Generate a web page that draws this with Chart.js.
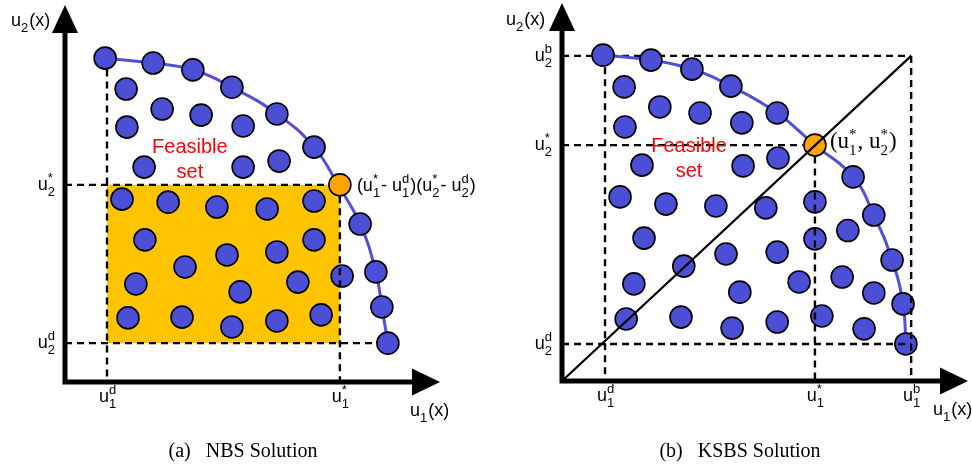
<!DOCTYPE html>
<html>
<head>
<meta charset="utf-8">
<script src="https://cdn.jsdelivr.net/npm/chart.js@4/dist/chart.umd.min.js"></script>
<style>
  html, body { margin: 0; padding: 0; background: #ffffff; }
  #wrap { position: relative; width: 972px; height: 466px; }
  canvas { position: absolute; top: 0; }
  #ca { left: 0; }
  #cb { left: 486px; }
</style>
</head>
<body>
<div id="wrap">
  <canvas id="ca" width="486" height="466"></canvas>
  <canvas id="cb" width="486" height="466"></canvas>
</div>
<script>
// ---------------- DATA (utility units, axes 0..10) ----------------
// (a) NBS
const nbsFrontierX = [1.07, 2.35, 3.41, 4.45, 5.65, 6.64, 7.28, 7.87, 8.29, 8.45, 8.61];
const nbsFrontierY = [8.59, 8.46, 8.28, 7.82, 7.11, 6.23, 5.23, 4.19, 2.92, 1.99, 1.03];
const nbsInteriorX = [1.63, 2.59, 3.63, 1.65, 4.75, 2.11, 4.75, 5.71, 1.52, 2.75, 4.05, 5.39, 6.64,
                      2.13, 6.64, 3.20, 4.32, 5.65, 1.89, 4.67, 6.21, 7.39, 1.68, 3.12, 4.45, 5.65, 6.83];
const nbsInteriorY = [7.77, 7.24, 7.08, 6.76, 6.79, 5.70, 5.70, 5.86, 4.85, 4.77, 4.64, 4.59, 4.80,
                      3.77, 3.77, 3.05, 3.37, 3.45, 2.60, 2.39, 2.65, 2.81, 1.70, 1.72, 1.46, 1.62, 1.78];
const nbsSolution = [7.33, 5.23];      // (u1*, u2*)
const nbsDisagreement = [1.12, 1.03];  // (u1d, u2d)

// (b) KSBS
const ksbsFrontierX = [1.01, 2.19, 3.20, 4.16, 5.30, 6.23, 7.17, 7.68, 8.13, 8.40, 8.47];
const ksbsFrontierY = [8.62, 8.49, 8.25, 7.80, 7.09, 6.24, 5.40, 4.39, 3.20, 2.04, 0.98];
const ksbsInteriorX = [1.53, 2.41, 3.40, 1.55, 4.43, 1.97, 4.46, 5.32, 1.43, 2.56, 3.79, 5.02, 6.23,
                       2.02, 6.23, 7.04, 4.04, 5.30, 3.00, 1.77, 4.38, 5.84, 6.90, 7.68,
                       1.58, 2.93, 4.19, 5.30, 6.40, 7.44];
const ksbsInteriorY = [7.78, 7.25, 7.09, 6.72, 6.83, 5.71, 5.69, 5.90, 4.87, 4.68, 4.63, 4.58, 4.74,
                       3.78, 3.76, 3.98, 3.36, 3.41, 3.04, 2.57, 2.35, 2.62, 2.75, 2.33,
                       1.64, 1.69, 1.40, 1.56, 1.72, 1.38];
const ksbsSolution = [6.23, 6.24];
const ksbsDisagreement = [1.06, 0.98];
const ksbsBest = [8.60, 8.60];         // (u1b, u2b)

// tick labels: [base, subscript, superscript]
const nbsXTicks = [['u', '1', 'd'], ['u', '1', '*']];
const nbsYTicks = [['u', '2', '*'], ['u', '2', 'd']];
const ksbsXTicks = [['u', '1', 'd'], ['u', '1', '*'], ['u', '1', 'b']];
const ksbsYTicks = [['u', '2', 'b'], ['u', '2', '*'], ['u', '2', 'd']];
const captions = ['(a)\u2002 NBS Solution', '(b)\u2002 KSBS Solution'];

// ---------------- helpers ----------------
const BLUE = '#4B4FD6';
const CURVE = '#5050D8';
const ORANGE = '#FFA500';
const GOLD = '#FFC400';
const SANS = '"Liberation Sans", Arial, sans-serif';
const SERIF = '"Liberation Serif", "Times New Roman", serif';
const zip = (xs, ys) => xs.map((x, i) => ({ x, y: ys[i] }));
const R = 11;

function dots(xs, ys, color, order) {
  return { data: zip(xs, ys), pointRadius: R, pointHoverRadius: R, pointBackgroundColor: color,
           pointBorderColor: '#000', pointBorderWidth: 1.6, showLine: false, order: order, clip: false };
}
function curve(xs, ys, order) {
  return { data: zip(xs, ys), showLine: true, tension: 0.45, borderColor: CURVE, borderWidth: 3,
           pointRadius: 0, order: order, clip: false };
}
function seg(p, q, dashed, order, width) {
  return { data: [p, q], showLine: true, borderColor: '#000', borderWidth: width || 2.4,
           borderDash: dashed ? [7, 5] : [], pointRadius: 0, order: order, clip: false, tension: 0 };
}

// draws text composed of pieces; piece = string or [sub, sup]
function richWidth(ctx, pieces, font, sfont) {
  let w = 0;
  pieces.forEach(p => {
    if (typeof p === 'string') { ctx.font = font; w += ctx.measureText(p).width; }
    else { ctx.font = sfont; w += Math.max(ctx.measureText(p[0]).width, ctx.measureText(p[1] || '').width) + 1; }
  });
  return w;
}
function richText(ctx, pieces, x, y, align, font, sfont, subDy, supDy) {
  const w = richWidth(ctx, pieces, font, sfont);
  let cx = align === 'center' ? x - w / 2 : (align === 'right' ? x - w : x);
  ctx.textAlign = 'left'; ctx.textBaseline = 'alphabetic'; ctx.fillStyle = '#000';
  pieces.forEach(p => {
    if (typeof p === 'string') { ctx.font = font; ctx.fillText(p, cx, y); cx += ctx.measureText(p).width; }
    else {
      ctx.font = sfont;
      ctx.fillText(p[0], cx, y + subDy);
      if (p[1]) ctx.fillText(p[1], cx, y - supDy);
      cx += Math.max(ctx.measureText(p[0]).width, ctx.measureText(p[1] || '').width) + 1;
    }
  });
}
const F = '18px ' + SANS, SF = '13px ' + SANS;

function axesPlugin(spec) {
  return {
    id: 'axesArrows',
    afterDatasetsDraw(chart) {
      const { ctx, chartArea: a, scales } = chart;
      const xs = scales.x, ys = scales.y;
      ctx.save();
      // axes
      ctx.strokeStyle = '#000'; ctx.fillStyle = '#000'; ctx.lineWidth = 5; ctx.lineCap = 'butt';
      ctx.beginPath();
      ctx.moveTo(a.left, a.bottom + 2.5); ctx.lineTo(a.left, a.top + 27);
      ctx.moveTo(a.left - 2.5, a.bottom); ctx.lineTo(a.right - 27, a.bottom);
      ctx.stroke();
      ctx.beginPath();
      ctx.moveTo(a.left - 13, a.top + 28); ctx.lineTo(a.left + 13, a.top + 28); ctx.lineTo(a.left, a.top); ctx.closePath();
      ctx.fill();
      ctx.beginPath();
      ctx.moveTo(a.right - 28, a.bottom - 13.5); ctx.lineTo(a.right - 28, a.bottom + 13.5); ctx.lineTo(a.right, a.bottom); ctx.closePath();
      ctx.fill();
      // axis titles
      richText(ctx, ['u', ['2'], '(x)'], a.left + spec.yTitleDx, spec.yTitleY, 'left', F, SF, 6, 7);
      richText(ctx, ['u', ['1'], '(x)'], a.right + spec.xTitleDx, a.bottom + 34, 'left', F, SF, 6, 7);
      // tick labels
      spec.xTicks.forEach((t, i) => {
        richText(ctx, [t[0], [t[1], t[2]]], xs.getPixelForValue(spec.xTickVals[i]) + 1, a.bottom + 20, 'center', F, SF, 6, 8);
      });
      spec.yTicks.forEach((t, i) => {
        richText(ctx, [t[0], [t[1], t[2]]], a.left - 9, ys.getPixelForValue(spec.yTickVals[i]) + 5, 'right', F, SF, 6, 8);
      });
      // Feasible set
      ctx.fillStyle = '#FF0000'; ctx.font = '20px ' + SANS; ctx.textAlign = 'center'; ctx.textBaseline = 'alphabetic';
      const fx = xs.getPixelForValue(spec.feasible[0]), fy = ys.getPixelForValue(spec.feasible[1]);
      ctx.fillText('Feasible', fx, fy);
      ctx.fillText('set', fx, fy + 25);
      // solution annotation
      const sx = xs.getPixelForValue(spec.sol[0]), sy = ys.getPixelForValue(spec.sol[1]);
      if (spec.serifAnno) {
        richText(ctx, ['(u', ['1', '*'], ', u', ['2', '*'], ')'], sx + 15, sy + 3, 'left',
                 '23px ' + SERIF, '15px ' + SERIF, 7, 9);
      } else {
        richText(ctx, ['(u', ['1', '*'], '- u', ['1', 'd'], ')(u', ['2', '*'], '- u', ['2', 'd'], ')'],
                 sx + 17, sy + 6, 'left', F, SF, 6, 8);
      }
      // caption
      ctx.fillStyle = '#000'; ctx.font = '20px ' + SERIF; ctx.textAlign = 'center';
      ctx.fillText(spec.caption, spec.captionX, 457);
      ctx.restore();
    }
  };
}

function baseOptions(pad) {
  return {
    responsive: false, animation: false, devicePixelRatio: 1,
    layout: { padding: pad, autoPadding: false },
    plugins: { legend: { display: false }, tooltip: { enabled: false } },
    events: [],
    scales: {
      x: { type: 'linear', min: 0, max: 10, display: false },
      y: { type: 'linear', min: 0, max: 10, display: false }
    }
  };
}

// ---------------- (a) NBS ----------------
(function () {
  const [u1s, u2s] = nbsSolution, [u1d, u2d] = nbsDisagreement;
  const off = 0.3;
  const ds = [
    { data: [{ x: u1d, y: u2s }, { x: u1s, y: u2s }], showLine: true, fill: { value: u2d },
      backgroundColor: GOLD, borderWidth: 0, pointRadius: 0, order: 9, clip: false, tension: 0 },
    seg({ x: u1d, y: nbsFrontierY[0] - off }, { x: u1d, y: 0 }, true, 5),
    seg({ x: 0, y: u2s }, { x: u1s - off, y: u2s }, true, 5),
    seg({ x: 0, y: u2d }, { x: nbsFrontierX[10] - off, y: u2d }, true, 5),
    seg({ x: u1s, y: u2s - off }, { x: u1s, y: 0 }, true, 1),
    curve(nbsFrontierX, nbsFrontierY, 4),
    dots(nbsFrontierX.filter((_, i) => i !== 6), nbsFrontierY.filter((_, i) => i !== 6), BLUE, 2),
    dots(nbsInteriorX, nbsInteriorY, BLUE, 2),
    dots([u1s], [u2s], ORANGE, 2)
  ];
  new Chart(document.getElementById('ca'), {
    type: 'scatter',
    data: { datasets: ds },
    options: baseOptions({ left: 65, right: 46, top: 5, bottom: 84 }),
    plugins: [axesPlugin({
      yTitleDx: -54, yTitleY: 26, xTitleDx: -30,
      xTicks: nbsXTicks, xTickVals: [u1d, u1s],
      yTicks: nbsYTicks, yTickVals: [u2s, u2d],
      feasible: [3.33, 6.07], sol: nbsSolution, serifAnno: false,
      caption: captions[0], captionX: 243
    })]
  });
})();

// ---------------- (b) KSBS ----------------
(function () {
  const [u1s, u2s] = ksbsSolution, [u1d, u2d] = ksbsDisagreement, [u1b, u2b] = ksbsBest;
  const off = 0.3;
  const ds = [
    seg({ x: 0, y: u2b }, { x: u1b, y: u2b }, true, 5),
    seg({ x: u1b, y: u2b }, { x: u1b, y: 0 }, true, 1),
    seg({ x: u1d, y: u2b - off }, { x: u1d, y: 0 }, true, 5),
    seg({ x: 0, y: u2s }, { x: u1s - off, y: u2s }, true, 5),
    seg({ x: u1s, y: u2s - off }, { x: u1s, y: 0 }, true, 1),
    seg({ x: 0, y: u2d }, { x: u1b, y: u2d }, true, 1),
    seg({ x: 0, y: 0 }, { x: u1b, y: u2b }, false, 0, 2.2),
    curve(ksbsFrontierX, ksbsFrontierY, 4),
    dots(ksbsFrontierX.filter((_, i) => i !== 5), ksbsFrontierY.filter((_, i) => i !== 5), BLUE, 2),
    dots(ksbsInteriorX, ksbsInteriorY, BLUE, 2),
    dots([u1s], [u2s], ORANGE, 2)
  ];
  new Chart(document.getElementById('cb'), {
    type: 'scatter',
    data: { datasets: ds },
    options: baseOptions({ left: 76, right: 4, top: 3, bottom: 85 }),
    plugins: [axesPlugin({
      yTitleDx: -56, yTitleY: 25, xTitleDx: -35,
      xTicks: ksbsXTicks, xTickVals: [u1d, u1s, u1b],
      yTicks: ksbsYTicks, yTickVals: [u2b, u2s, u2d],
      feasible: [3.13, 6.06], sol: ksbsSolution, serifAnno: true,
      caption: captions[1], captionX: 254
    })]
  });
})();
</script>
</body>
</html>
